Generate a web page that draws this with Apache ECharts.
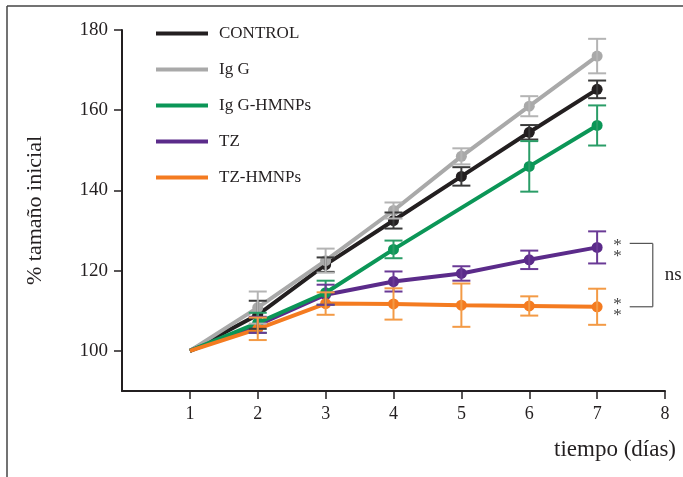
<!DOCTYPE html>
<html>
<head>
<meta charset="utf-8">
<script src="https://cdn.jsdelivr.net/npm/echarts@6/dist/echarts.min.js"></script>
<style>
  html, body { margin: 0; padding: 0; background: #ffffff; }
  #main { width: 683px; height: 477px; }
</style>
</head>
<body>
<div id="main"></div>
<script>
// Tumour growth, % of initial size per day, mean ± error
const days = [1, 2, 3, 4, 5, 6, 7];

const control    = [100, 109.0, 121.5, 132.5, 143.5, 154.5, 165.2];
const controlErr = [0, 3.5, 1.8, 2.0, 2.3, 1.8, 2.2];

const igG    = [100, 110.8, 122.5, 135.0, 148.5, 161.0, 173.5];
const igGErr = [0, 4.0, 3.0, 2.0, 2.0, 2.5, 4.3];

const igGHmnps    = [100, 107.0, 114.5, 125.3, null, 146.0, 156.2];
const igGHmnpsErr = [0, 2.5, 3.0, 2.2, null, 6.3, 5.0];

const tz    = [100, 106.5, 114.0, 117.3, 119.3, 122.7, 125.8];
const tzErr = [0, 2.0, 2.5, 2.5, 1.8, 2.3, 4.0];

const tzHmnps    = [100, 105.5, 111.8, 111.7, 111.4, 111.2, 111.0];
const tzHmnpsErr = [0, 2.8, 2.8, 3.9, 5.4, 2.4, 4.5];

const yTicks = [100, 120, 140, 160, 180];
const xTicks = [1, 2, 3, 4, 5, 6, 7, 8];

const groups = [
  { name: 'CONTROL',     values: control,   errors: controlErr,   color: '#231f20', bar: '#3a3a3a', z: 2 },
  { name: 'Ig G',        values: igG,       errors: igGErr,       color: '#a9a9a9', bar: '#b4b4b4', z: 3 },
  { name: 'Ig G-HMNPs',  values: igGHmnps,  errors: igGHmnpsErr,  color: '#0b9657', bar: '#2a9d67', z: 5 },
  { name: 'TZ',          values: tz,        errors: tzErr,        color: '#5b2b8a', bar: '#6a3a96', z: 4 },
  { name: 'TZ-HMNPs',    values: tzHmnps,   errors: tzHmnpsErr,   color: '#f47b20', bar: '#f39a45', z: 6 }
];

const serif = 'Liberation Serif';

function errorBarRenderer(color) {
  return function (params, api) {
    const x = api.value(0);
    const lo = api.coord([x, api.value(1)]);
    const hi = api.coord([x, api.value(2)]);
    const hw = 9;
    const style = { stroke: color, lineWidth: 2 };
    return {
      type: 'group',
      children: [
        { type: 'line', shape: { x1: lo[0], y1: lo[1], x2: hi[0], y2: hi[1] }, style: style },
        { type: 'line', shape: { x1: lo[0] - hw, y1: lo[1], x2: lo[0] + hw, y2: lo[1] }, style: style },
        { type: 'line', shape: { x1: hi[0] - hw, y1: hi[1], x2: hi[0] + hw, y2: hi[1] }, style: style }
      ]
    };
  };
}

const series = [];
groups.forEach(function (g) {
  series.push({
    name: g.name,
    type: 'line',
    // the common starting point (day 1 = 100 %) carries no marker
    data: days.map(function (d, k) {
      return k === 0 ? { value: [d, g.values[k]], symbol: 'none' } : [d, g.values[k]];
    }),
    connectNulls: true,
    symbol: 'circle',
    symbolSize: 11,
    showSymbol: true,
    lineStyle: { color: g.color, width: 4 },
    itemStyle: { color: g.color },
    z: g.z,
    animation: false
  });
  const bars = [];
  days.forEach(function (d, k) {
    const v = g.values[k], e = g.errors[k];
    if (v != null && e) bars.push([d, v - e, v + e]);
  });
  series.push({
    name: g.name + ' error',
    type: 'custom',
    renderItem: errorBarRenderer(g.bar),
    data: bars,
    encode: { x: 0, y: [1, 2] },
    z: 10,
    animation: false,
    silent: true
  });
});

const option = {
  backgroundColor: '#ffffff',
  animation: false,
  grid: { left: 122, right: 18, top: 30, bottom: 86, containLabel: false },
  legend: {
    data: groups.map(function (g) { return g.name; }),
    orient: 'vertical',
    left: 156,
    top: 25,
    padding: 0,
    icon: 'rect',
    itemWidth: 52,
    itemHeight: 4,
    itemGap: 19,
    selectedMode: false,
    textStyle: { fontFamily: serif, fontSize: 17, color: '#231f20', padding: [0, 0, 0, 6] }
  },
  xAxis: {
    type: 'value',
    min: 0,
    max: 8,
    interval: 1,
    name: 'tiempo (días)',
    nameLocation: 'end',
    nameGap: 11,
    nameTextStyle: {
      fontFamily: serif, fontSize: 23, color: '#231f20',
      align: 'right', verticalAlign: 'top', padding: [47, 0, 0, 0]
    },
    axisLine: { lineStyle: { color: '#231f20', width: 2 } },
    axisTick: { show: true, length: 8, customValues: xTicks, lineStyle: { color: '#231f20', width: 1.5 } },
    axisLabel: { customValues: xTicks, margin: 14, fontFamily: serif, fontSize: 18, color: '#231f20' },
    splitLine: { show: false }
  },
  yAxis: {
    type: 'value',
    min: 90,
    max: 180,
    name: '% tamaño inicial',
    nameLocation: 'middle',
    nameGap: 76,
    nameTextStyle: { fontFamily: serif, fontSize: 22, color: '#231f20' },
    axisLine: { show: true, lineStyle: { color: '#231f20', width: 2 } },
    axisTick: { show: true, length: 8, customValues: yTicks, lineStyle: { color: '#231f20', width: 1.5 } },
    axisLabel: { customValues: yTicks, margin: 14, fontFamily: serif, fontSize: 19, color: '#231f20' },
    splitLine: { show: false }
  },
  series: series
};

const chart = echarts.init(document.getElementById('main'), null, { renderer: 'canvas' });
chart.setOption(option);

// Significance marks next to the day-7 points, plus the frame round the figure
function px(x, y) { return chart.convertToPixel({ gridIndex: 0 }, [x, y]); }
const last = days.length - 1;
const tzEnd = px(days[last], tz[last]);
const hmEnd = px(days[last], tzHmnps[last]);
const bracketTop = px(days[last] + 0.48, tz[last] + 1)[1];
const bracketBottom = px(days[last] + 0.48, tzHmnps[last])[1];
const bx0 = px(days[last] + 0.48, 0)[0];
const bx1 = px(days[last] + 0.82, 0)[0];
const starX = px(days[last] + 0.3, 0)[0];

const markStyle = { stroke: '#555555', lineWidth: 1.2 };
const starStyle = { text: '*\n*', fontFamily: serif, fontSize: 17, lineHeight: 11, fill: '#444444', align: 'center', verticalAlign: 'middle' };

chart.setOption({
  graphic: [
    { type: 'line', shape: { x1: 7, y1: 6, x2: 7, y2: 477 }, style: { stroke: '#444444', lineWidth: 1.5 } },
    { type: 'line', shape: { x1: 7, y1: 6, x2: 683, y2: 6 }, style: { stroke: '#444444', lineWidth: 1.5 } },
    { type: 'text', x: starX, y: tzEnd[1] + 4, style: starStyle },
    { type: 'text', x: starX, y: hmEnd[1] + 3, style: starStyle },
    { type: 'line', shape: { x1: bx0, y1: bracketTop, x2: bx1, y2: bracketTop }, style: markStyle },
    { type: 'line', shape: { x1: bx1, y1: bracketTop, x2: bx1, y2: bracketBottom }, style: markStyle },
    { type: 'line', shape: { x1: bx0, y1: bracketBottom, x2: bx1, y2: bracketBottom }, style: markStyle },
    { type: 'text', x: bx1 + 12, y: (bracketTop + bracketBottom) / 2,
      style: { text: 'ns', fontFamily: serif, fontSize: 19, fill: '#231f20', align: 'left', verticalAlign: 'middle' } }
  ]
});
</script>
</body>
</html>
